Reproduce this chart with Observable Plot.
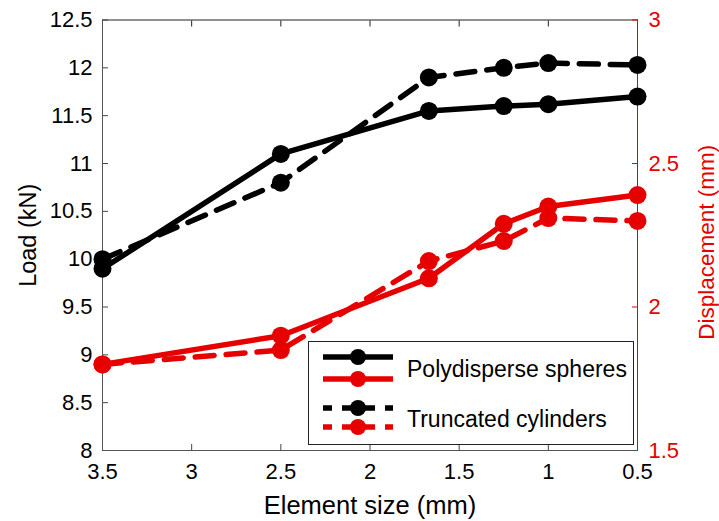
<!DOCTYPE html>
<html><head><meta charset="utf-8">
<script src="https://cdn.jsdelivr.net/npm/d3@7"></script>
<script src="https://cdn.jsdelivr.net/npm/@observablehq/plot@0.6"></script>
<style>body{margin:0;background:#fff}</style>
</head><body><div id="chart"></div>
<script>
// ---- data ----
const elementSize = [3.5, 2.5, 1.67, 1.25, 1.0, 0.5];
const loadSpheres = [9.9, 11.1, 11.55, 11.6, 11.62, 11.7];
const loadCylinders = [10.0, 10.8, 11.9, 12.0, 12.05, 12.03];
const dispSpheres = [1.80, 1.90, 2.10, 2.29, 2.35, 2.39];
const dispCylinders = [1.80, 1.85, 2.16, 2.23, 2.31, 2.30];
const xTicks = [3.5, 3, 2.5, 2, 1.5, 1, 0.5];
const loadTicks = [8, 8.5, 9, 9.5, 10, 10.5, 11, 11.5, 12, 12.5];
const dispTicks = [1.5, 2, 2.5, 3];
const seriesNames = ["Polydisperse spheres", "Truncated cylinders"];
const axisLabels = {x: "Element size (mm)", y: "Load (kN)", y2: "Displacement (mm)"};

const RED = "#e60000";
const FONT = "'Liberation Sans', Arial, sans-serif";
// right axis (displacement 1.5..3) mapped onto left axis (load 8..12.5)
const dispToLoad = d => 8 + (d - 1.5) * 3;

const rows = (vals, f = v => v) => elementSize.map((s, i) => ({s, v: f(vals[i])}));
const ls = rows(loadSpheres), lc = rows(loadCylinders);
const ds = rows(dispSpheres, dispToLoad), dc = rows(dispCylinders, dispToLoad);

const DASH = "19,12";
const LW = 5.5, R = 9;
const TF = 22;

const plot = Plot.plot({
  width: 719, height: 521,
  marginLeft: 102, marginRight: 82, marginTop: 19.5, marginBottom: 71,
  style: {fontFamily: FONT, fontSize: TF + "px", color: "#000", background: "#fff"},
  x: {domain: [3.5, 0.5]},
  y: {domain: [8, 12.5]},
  marks: [
    Plot.frame({stroke: "#222", strokeWidth: 1}),
    Plot.axisX(xTicks, {anchor: "bottom", tickSize: -6, tickFormat: () => "", stroke: "#444", label: null}),
    Plot.text(xTicks, {x: d => d, frameAnchor: "bottom", dy: 21, text: d => String(d),
      textAnchor: "middle", lineAnchor: "middle", fontSize: TF, fill: "black"}),
    Plot.axisX(xTicks, {anchor: "top", tickSize: -6, tickFormat: () => "", label: null, stroke: "#222"}),
    Plot.axisY(loadTicks, {anchor: "left", tickSize: -6, tickPadding: 16, stroke: "#444", fontSize: TF,
      tickFormat: d => String(d), label: null}),
    Plot.axisY(dispTicks.map(dispToLoad), {anchor: "right", tickSize: -6, tickPadding: 17, stroke: RED, fill: RED, fontSize: TF,
      tickFormat: (d, i) => String(dispTicks[i]), label: null}),
    Plot.text([axisLabels.x], {frameAnchor: "bottom", dy: 55, text: d => d, fontSize: 25.5,
      textAnchor: "middle", lineAnchor: "middle", fill: "black"}),
    Plot.text([axisLabels.y], {frameAnchor: "left", dx: -74, text: d => d, fontSize: 23.5, rotate: -90,
      textAnchor: "middle", lineAnchor: "middle", fill: "black"}),
    Plot.text([axisLabels.y2], {frameAnchor: "right", dx: 69, dy: 7, text: d => d, fontSize: 22.5, rotate: -90,
      textAnchor: "middle", lineAnchor: "middle", fill: RED}),
    Plot.ruleX([3.5], {stroke: "#555", strokeWidth: 1}),
    Plot.ruleY([8], {stroke: "#555", strokeWidth: 1}),
    Plot.ruleX([0.5], {stroke: RED, strokeWidth: 1}),
    Plot.line(ls, {x: "s", y: "v", stroke: "black", strokeWidth: LW}),
    Plot.dot(ls, {x: "s", y: "v", r: R, fill: "black"}),
    Plot.line(ds, {x: "s", y: "v", stroke: RED, strokeWidth: LW}),
    Plot.dot(ds, {x: "s", y: "v", r: R, fill: RED}),
    Plot.line(lc, {x: "s", y: "v", stroke: "black", strokeWidth: LW, strokeDasharray: DASH}),
    Plot.dot(lc, {x: "s", y: "v", r: R, fill: "black"}),
    Plot.line(dc, {x: "s", y: "v", stroke: RED, strokeWidth: LW, strokeDasharray: DASH}),
    Plot.dot(dc, {x: "s", y: "v", r: R, fill: RED})
  ]
});
document.getElementById("chart").appendChild(plot);

// ---- legend (inside plot area, lower right) ----
const svg = d3.select(plot);
const lg = svg.append("g").attr("font-family", FONT).attr("font-size", 23).attr("text-anchor", "start");
lg.append("rect").attr("x", 308.5).attr("y", 341.5).attr("width", 325).attr("height", 103)
  .attr("fill", "white").attr("stroke", "#222").attr("stroke-width", 1);
const entries = [
  {y: 357, c: "black", dash: null}, {y: 379, c: RED, dash: null},
  {y: 408, c: "black", dash: "9,10,33,10,9"}, {y: 427, c: RED, dash: "9,10,33,10,9"}
];
entries.forEach(e => {
  lg.append("line").attr("x1", 323).attr("x2", 393).attr("y1", e.y).attr("y2", e.y)
    .attr("stroke", e.c).attr("stroke-width", LW).attr("stroke-dasharray", e.dash);
  lg.append("circle").attr("cx", 358).attr("cy", e.y).attr("r", 8).attr("fill", e.c);
});
lg.append("text").attr("x", 407).attr("y", 369).attr("dy", "0.35em").attr("fill", "black").text(seriesNames[0]);
lg.append("text").attr("x", 407).attr("y", 419).attr("dy", "0.35em").attr("fill", "black").text(seriesNames[1]);
</script></body></html>
